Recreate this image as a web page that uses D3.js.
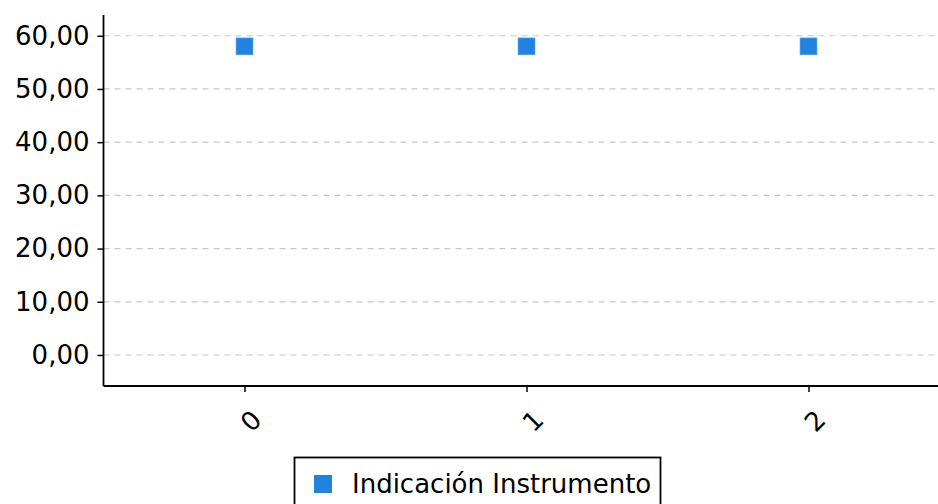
<!DOCTYPE html>
<html><head><meta charset="utf-8">
<script src="https://cdn.jsdelivr.net/npm/d3@7"></script>
<style>body{margin:0;background:#fff}svg{display:block}text{font-family:"DejaVu Sans",sans-serif;fill:#000}</style>
</head><body><svg id="c" width="938" height="504"></svg>
<script>
const categories = ["0","1","2"];
const values = [58, 58, 58];
const yTicks = [0,10,20,30,40,50,60];
const seriesName = "Indicación Instrumento";

(function(){
const svg = d3.select("#c");
const left = 103.5, topY = 15, bottom = 386;
const y = d3.scaleLinear().domain([-5.83, 63.9]).range([bottom, topY]);
const x = d3.scalePoint().domain(categories).range([left, left + 846]).padding(0.5);
const fmt = v => d3.format(".2f")(v).replace(".", ",");

// grid
svg.append("g").selectAll("line").data(yTicks).join("line")
  .attr("x1", left).attr("x2", 938).attr("y1", d => y(d)).attr("y2", d => y(d))
  .attr("stroke", "#c8c8c8").attr("stroke-width", 1.2).attr("stroke-dasharray", "6,5");

// y axis
const ya = svg.append("g").attr("transform", `translate(${left},0)`)
  .call(d3.axisLeft(y).tickValues(yTicks).tickFormat(fmt).tickSize(6).tickPadding(8));
ya.select(".domain").attr("d", `M0,${topY}V${bottom}`).attr("stroke", "#000").attr("stroke-width", 1.8);
ya.selectAll(".tick line").attr("stroke", "#000").attr("stroke-width", 1.5);
ya.selectAll("text").style("font-size", "26px").attr("fill", "#000");

// x axis
const xa = svg.append("g").attr("transform", `translate(0,${bottom})`)
  .call(d3.axisBottom(x).tickSize(6).tickFormat(d => d));
xa.select(".domain").attr("d", `M${left},0H938`).attr("stroke", "#000").attr("stroke-width", 1.8);
xa.selectAll(".tick line").attr("stroke", "#000").attr("stroke-width", 1.5);
xa.selectAll("text").style("font-size", "26px")
  .attr("text-anchor", "middle").attr("dominant-baseline", "central")
  .attr("x", 6).attr("y", 35).attr("dy", null)
  .attr("transform", "rotate(-45, 6, 35)");

// markers
const s = 17;
svg.append("g").selectAll("rect").data(values).join("rect")
  .attr("x", (d, i) => x(categories[i]) - s / 2)
  .attr("y", d => y(d) - s / 2)
  .attr("width", s).attr("height", s)
  .attr("fill", "#2183de").attr("stroke", "#6fb0ee").attr("stroke-width", 0.6);

// legend
const lg = svg.append("g");
lg.append("rect").attr("x", 294.5).attr("y", 457.5).attr("width", 366).attr("height", 60)
  .attr("fill", "#fff").attr("stroke", "#000").attr("stroke-width", 1.8);
lg.append("rect").attr("x", 314).attr("y", 475).attr("width", 18).attr("height", 18).attr("fill", "#2183de");
lg.append("text").attr("x", 352).attr("y", 493).style("font-size", "26px").text(seriesName);
})();
</script></body></html>
